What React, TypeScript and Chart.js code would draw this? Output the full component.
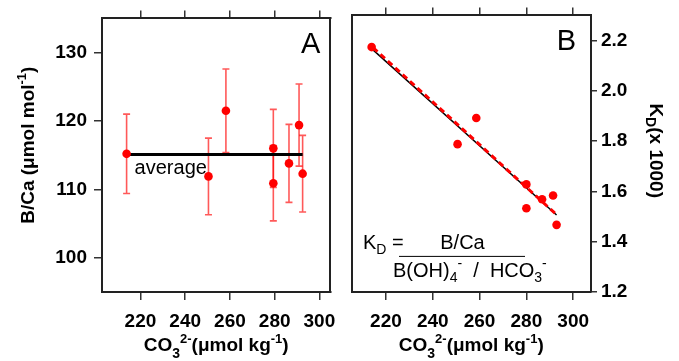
import React, { useEffect, useRef } from 'react';
import { Chart, registerables } from 'chart.js';

Chart.register(...registerables);

const FONT = '"Liberation Sans", Arial, Helvetica, sans-serif';

// ---- Panel A data ----
const co3A = [213.8, 250.4, 258.2, 279.4, 279.4, 286.4, 290.9, 292.5];
const bcaA = [115.2, 111.9, 121.5, 116.0, 110.9, 113.8, 119.4, 112.3];
const bcaErr = [5.8, 5.6, 6.1, 5.7, 5.5, 5.7, 6.0, 5.6];
const avgX = [213.8, 292.5];
const avgY = [115.1, 115.1];
const xTicks = [220, 240, 260, 280, 300];
const yTicksA = [100, 110, 120, 130];

// ---- Panel B data ----
const co3B = [213.9, 250.6, 258.6, 280.0, 280.0, 286.7, 291.4, 292.9];
const kdB = [2.174, 1.788, 1.892, 1.628, 1.533, 1.569, 1.584, 1.467];
const fitBlackX = [213.9, 292.9];
const fitBlackY = [2.168, 1.506];
const fitRedX = [214.5, 293.4];
const fitRedY = [2.172, 1.503];
const yTicksB = [1.2, 1.4, 1.6, 1.8, 2.0, 2.2];

type Seg = { t: string; k?: 'sub' | 'sup' };
type RichStyle = { size: number; weight: string; subSize: number; subDy: number; supSize: number; supDy: number };

const TITLE: RichStyle = { size: 19, weight: 'bold', subSize: 14, subDy: 7, supSize: 13, supDy: -8 };
const KTITLE: RichStyle = { size: 19, weight: 'bold', subSize: 14, subDy: 4, supSize: 13, supDy: -8 };
const FORMULA: RichStyle = { size: 20, weight: 'normal', subSize: 14, subDy: 5, supSize: 14, supDy: -9 };

function drawRich(
  ctx: CanvasRenderingContext2D,
  segs: Seg[],
  x: number,
  y: number,
  st: RichStyle,
  align: 'left' | 'center'
) {
  let cx = 0;
  const items: { s: Seg; fs: number; start: number }[] = [];
  for (const s of segs) {
    const fs = s.k === 'sub' ? st.subSize : s.k === 'sup' ? st.supSize : st.size;
    ctx.font = `${st.weight} ${fs}px ${FONT}`;
    const w = ctx.measureText(s.t).width;
    items.push({ s, fs, start: cx });
    cx += w;
  }
  const x0 = align === 'center' ? x - cx / 2 : x;
  ctx.textAlign = 'left';
  ctx.textBaseline = 'alphabetic';
  for (const it of items) {
    ctx.font = `${st.weight} ${it.fs}px ${FONT}`;
    const dy = it.s.k === 'sub' ? st.subDy : it.s.k === 'sup' ? st.supDy : 0;
    ctx.fillText(it.s.t, x0 + it.start, y + dy);
  }
}

const X_TITLE: Seg[] = [
  { t: 'CO' },
  { t: '3', k: 'sub' },
  { t: '2-', k: 'sup' },
  { t: '(\u03bcmol kg' },
  { t: '-1', k: 'sup' },
  { t: ')' },
];

const tickFont = { family: FONT, size: 19, weight: 'bold' as const };
const FRAME = '#222';

function axisX(min: number, max: number, pos: 'bottom' | 'top', h: number, labels: boolean) {
  return {
    type: 'linear',
    position: pos,
    min,
    max,
    afterBuildTicks: (s: any) => {
      s.ticks = xTicks.map((v) => ({ value: v }));
    },
    afterFit: (s: any) => {
      s.height = h;
    },
    grid: { drawOnChartArea: false, drawTicks: true, tickLength: 8, color: '#333', lineWidth: 1.5 },
    border: { display: true, color: FRAME, width: 2 },
    ticks: { display: labels, font: tickFont, color: '#000', padding: 10, maxRotation: 0, autoSkip: false },
  };
}

function ChartA() {
  const ref = useRef<HTMLCanvasElement>(null);
  useEffect(() => {
    const errPlugin = {
      id: 'errA',
      beforeDatasetsDraw(chart: any) {
        const { ctx, scales } = chart;
        const xs = scales.x;
        const ys = scales.y;
        ctx.save();
        ctx.strokeStyle = 'rgba(255,0,0,0.65)';
        ctx.lineWidth = 1.6;
        co3A.forEach((xv, i) => {
          const px = xs.getPixelForValue(xv);
          const pt = ys.getPixelForValue(bcaA[i] + bcaErr[i]);
          const pb = ys.getPixelForValue(bcaA[i] - bcaErr[i]);
          ctx.beginPath();
          ctx.moveTo(px, pt);
          ctx.lineTo(px, pb);
          ctx.moveTo(px - 3.5, pt);
          ctx.lineTo(px + 3.5, pt);
          ctx.moveTo(px - 3.5, pb);
          ctx.lineTo(px + 3.5, pb);
          ctx.stroke();
        });
        ctx.restore();
      },
      afterDraw(chart: any) {
        const { ctx, chartArea: ca, scales } = chart;
        ctx.save();
        ctx.fillStyle = '#000';
        ctx.font = `29px ${FONT}`;
        ctx.textAlign = 'right';
        ctx.textBaseline = 'alphabetic';
        ctx.fillText('A', ca.right - 10, ca.top + 35);
        ctx.font = `20px ${FONT}`;
        ctx.textAlign = 'left';
        ctx.fillText('average', scales.x.getPixelForValue(avgX[0]) + 8, scales.y.getPixelForValue(avgY[0]) + 19);
        drawRich(ctx, X_TITLE, (ca.left + ca.right) / 2, 351, TITLE, 'center');
        ctx.translate(34, (ca.top + ca.bottom) / 2 - 10);
        ctx.rotate(-Math.PI / 2);
        drawRich(ctx, [{ t: 'B/Ca (\u03bcmol mol' }, { t: '-1', k: 'sup' }, { t: ')' }], 0, 0, TITLE, 'center');
        ctx.restore();
      },
    };
    const chart = new Chart(ref.current!, {
      type: 'scatter',
      data: {
        datasets: [
          {
            data: co3A.map((x, i) => ({ x, y: bcaA[i] })),
            backgroundColor: '#ff0000',
            borderWidth: 0,
            pointRadius: 4.3,
            order: 0,
          } as any,
          {
            type: 'line',
            data: avgX.map((x, i) => ({ x, y: avgY[i] })),
            borderColor: '#000',
            borderWidth: 3,
            pointRadius: 0,
            showLine: true,
            order: 1,
          } as any,
        ],
      },
      options: {
        responsive: false,
        animation: false,
        events: [],
        layout: { padding: 0 },
        plugins: { legend: { display: false }, tooltip: { enabled: false } },
        scales: {
          x: axisX(202.8, 304.9, 'bottom', 69, true),
          x2: axisX(202.8, 304.9, 'top', 13, false),
          y: {
            type: 'linear',
            position: 'left',
            min: 95,
            max: 135,
            afterBuildTicks: (s: any) => {
              s.ticks = yTicksA.map((v) => ({ value: v }));
            },
            afterFit: (s: any) => {
              s.width = 102;
            },
            grid: { drawOnChartArea: false, tickLength: 8, color: '#333', lineWidth: 1.5 },
            border: { display: true, color: FRAME, width: 2 },
            ticks: { font: tickFont, color: '#000', padding: 7 },
          },
          y2: {
            type: 'linear',
            position: 'right',
            min: 95,
            max: 135,
            afterFit: (s: any) => {
              s.width = 4.5;
            },
            grid: { display: false, drawTicks: false },
            border: { display: true, color: FRAME, width: 2 },
            ticks: { display: false },
          },
        } as any,
      },
      plugins: [errPlugin],
    } as any);
    return () => chart.destroy();
  }, []);
  return <canvas ref={ref} width={346} height={361} style={{ position: 'absolute', left: 0, top: 0 }} />;
}

function ChartB() {
  const ref = useRef<HTMLCanvasElement>(null);
  useEffect(() => {
    const textPlugin = {
      id: 'textB',
      afterDraw(chart: any) {
        const { ctx, chartArea: ca } = chart;
        ctx.save();
        ctx.fillStyle = '#000';
        ctx.font = `29px ${FONT}`;
        ctx.textAlign = 'right';
        ctx.textBaseline = 'alphabetic';
        ctx.fillText('B', ca.right - 15, ca.top + 35);
        const L = ca.left;
        const T = ca.top;
        drawRich(ctx, [{ t: 'K' }, { t: 'D', k: 'sub' }, { t: ' =' }], L + 11.5, T + 234, FORMULA, 'left');
        drawRich(ctx, [{ t: 'B/Ca' }], L + 111, T + 234, FORMULA, 'center');
        ctx.strokeStyle = '#000';
        ctx.lineWidth = 1;
        ctx.beginPath();
        ctx.moveTo(L + 47.5, T + 241);
        ctx.lineTo(L + 173.5, T + 241);
        ctx.stroke();
        drawRich(
          ctx,
          [
            { t: 'B(OH)' },
            { t: '4', k: 'sub' },
            { t: '-', k: 'sup' },
            { t: '  /  HCO' },
            { t: '3', k: 'sub' },
            { t: '-', k: 'sup' },
          ],
          L + 41.5,
          T + 262,
          FORMULA,
          'left'
        );
        drawRich(ctx, X_TITLE, (ca.left + ca.right) / 2, 351, TITLE, 'center');
        ctx.translate(304, (ca.top + ca.bottom) / 2 - 3);
        ctx.rotate(Math.PI / 2);
        drawRich(ctx, [{ t: 'K' }, { t: 'D', k: 'sub' }, { t: '(x 1000)' }], 0, 0, KTITLE, 'center');
        ctx.restore();
      },
    };
    const chart = new Chart(ref.current!, {
      type: 'scatter',
      data: {
        datasets: [
          {
            data: co3B.map((x, i) => ({ x, y: kdB[i] })),
            backgroundColor: '#ff0000',
            borderWidth: 0,
            pointRadius: 4.3,
            order: 0,
          } as any,
          {
            type: 'line',
            data: fitRedX.map((x, i) => ({ x, y: fitRedY[i] })),
            borderColor: '#ff0000',
            borderWidth: 3,
            borderDash: [6, 4],
            pointRadius: 0,
            showLine: true,
            order: 1,
          } as any,
          {
            type: 'line',
            data: fitBlackX.map((x, i) => ({ x, y: fitBlackY[i] })),
            borderColor: '#000',
            borderWidth: 1.5,
            pointRadius: 0,
            showLine: true,
            order: 2,
          } as any,
        ],
      },
      options: {
        responsive: false,
        animation: false,
        events: [],
        layout: { padding: 0 },
        plugins: { legend: { display: false }, tooltip: { enabled: false } },
        scales: {
          x: axisX(205.3, 307.6, 'bottom', 69, true),
          x2: axisX(205.3, 307.6, 'top', 13, false),
          y: {
            type: 'linear',
            position: 'right',
            min: 1.2,
            max: 2.3,
            afterBuildTicks: (s: any) => {
              s.ticks = yTicksB.map((v) => ({ value: v }));
            },
            afterFit: (s: any) => {
              s.width = 88;
            },
            grid: { drawOnChartArea: false, tickLength: 6, color: '#333', lineWidth: 1.5 },
            border: { display: true, color: FRAME, width: 2 },
            ticks: { font: tickFont, color: '#000', padding: 4, callback: (v: any) => Number(v).toFixed(1) },
          },
          y2: {
            type: 'linear',
            position: 'left',
            min: 1.2,
            max: 2.3,
            afterFit: (s: any) => {
              s.width = 5.5;
            },
            grid: { display: false, drawTicks: false },
            border: { display: true, color: FRAME, width: 2 },
            ticks: { display: false },
          },
        } as any,
      },
      plugins: [textPlugin],
    } as any);
    return () => chart.destroy();
  }, []);
  return <canvas ref={ref} width={333} height={361} style={{ position: 'absolute', left: 346, top: 0 }} />;
}

export default function App() {
  return (
    <div style={{ position: 'absolute', left: 0, top: 0, width: 679, height: 361, background: '#fff' }}>
      <ChartA />
      <ChartB />
    </div>
  );
}
